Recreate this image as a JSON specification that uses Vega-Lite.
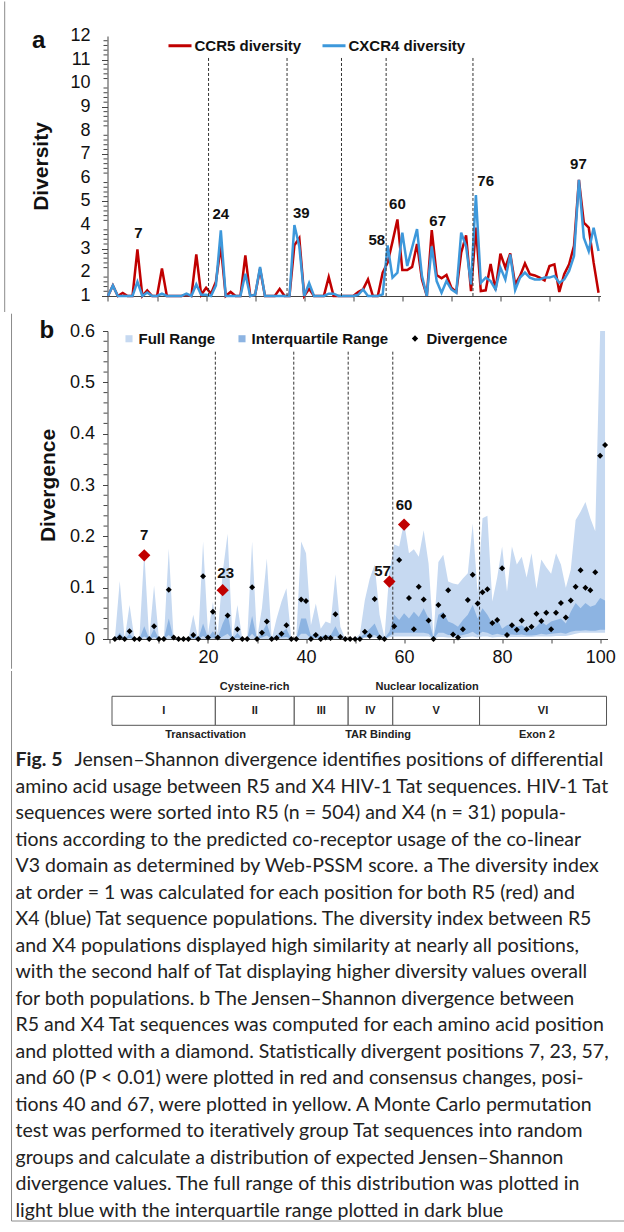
{
  "$schema": "https://vega.github.io/schema/vega-lite/v6.json",
  "padding": {"left": 3.5, "top": 0, "right": 0, "bottom": 0},
  "spacing": 0,
  "resolve": {"scale": {"color": "independent", "shape": "independent"}, "legend": {"color": "independent", "shape": "independent"}},
  "config": {
    "view": {"stroke": null},
    "font": "Liberation Sans",
    "axis": {"domainColor": "#444", "tickColor": "#444", "labelColor": "#111", "titleColor": "#111", "grid": false, "labelFont": "Liberation Sans", "titleFont": "Liberation Sans", "labelOverlap": false}
  },
  "datasets": {
    "pos": [
      {"p":1,"CCR5 diversity":1.0,"CXCR4 diversity":1.0,"jsd":0,"lo":0,"hi":0,"qlo":0,"qhi":0,"sig":false},
      {"p":2,"CCR5 diversity":1.45,"CXCR4 diversity":1.45,"jsd":0.003,"lo":0,"hi":0.113,"qlo":0.002,"qhi":0.012,"sig":false},
      {"p":3,"CCR5 diversity":1.0,"CXCR4 diversity":1.0,"jsd":0,"lo":0,"hi":0,"qlo":0,"qhi":0,"sig":false},
      {"p":4,"CCR5 diversity":1.13,"CXCR4 diversity":1.0,"jsd":0.015,"lo":0,"hi":0.066,"qlo":0.002,"qhi":0.01,"sig":false},
      {"p":5,"CCR5 diversity":1.0,"CXCR4 diversity":1.0,"jsd":0,"lo":0,"hi":0,"qlo":0,"qhi":0,"sig":false},
      {"p":6,"CCR5 diversity":1.0,"CXCR4 diversity":1.0,"jsd":0,"lo":0,"hi":0,"qlo":0,"qhi":0,"sig":false},
      {"p":7,"CCR5 diversity":2.97,"CXCR4 diversity":1.6,"jsd":0.163,"lo":0,"hi":0.17,"qlo":0.005,"qhi":0.025,"sig":true},
      {"p":8,"CCR5 diversity":1.0,"CXCR4 diversity":1.0,"jsd":0,"lo":0,"hi":0,"qlo":0,"qhi":0,"sig":false},
      {"p":9,"CCR5 diversity":1.24,"CXCR4 diversity":1.15,"jsd":0.025,"lo":0,"hi":0.104,"qlo":0.004,"qhi":0.02,"sig":false},
      {"p":10,"CCR5 diversity":1.0,"CXCR4 diversity":1.0,"jsd":0,"lo":0,"hi":0,"qlo":0,"qhi":0,"sig":false},
      {"p":11,"CCR5 diversity":1.0,"CXCR4 diversity":1.0,"jsd":0,"lo":0,"hi":0,"qlo":0,"qhi":0,"sig":false},
      {"p":12,"CCR5 diversity":2.16,"CXCR4 diversity":1.1,"jsd":0.096,"lo":0,"hi":0.176,"qlo":0.008,"qhi":0.04,"sig":false},
      {"p":13,"CCR5 diversity":1.0,"CXCR4 diversity":1.0,"jsd":0.003,"lo":0,"hi":0,"qlo":0,"qhi":0,"sig":false},
      {"p":14,"CCR5 diversity":1.0,"CXCR4 diversity":1.0,"jsd":0,"lo":0,"hi":0,"qlo":0,"qhi":0,"sig":false},
      {"p":15,"CCR5 diversity":1.0,"CXCR4 diversity":1.0,"jsd":0,"lo":0,"hi":0,"qlo":0,"qhi":0,"sig":false},
      {"p":16,"CCR5 diversity":1.0,"CXCR4 diversity":1.0,"jsd":0,"lo":0,"hi":0,"qlo":0,"qhi":0,"sig":false},
      {"p":17,"CCR5 diversity":1.05,"CXCR4 diversity":1.1,"jsd":0.008,"lo":0,"hi":0.047,"qlo":0.002,"qhi":0.01,"sig":false},
      {"p":18,"CCR5 diversity":1.0,"CXCR4 diversity":1.0,"jsd":0,"lo":0,"hi":0,"qlo":0,"qhi":0,"sig":false},
      {"p":19,"CCR5 diversity":2.76,"CXCR4 diversity":1.49,"jsd":0.122,"lo":0,"hi":0.19,"qlo":0.006,"qhi":0.03,"sig":false},
      {"p":20,"CCR5 diversity":1.05,"CXCR4 diversity":1.05,"jsd":0.003,"lo":0,"hi":0.01,"qlo":0,"qhi":0.002,"sig":false},
      {"p":21,"CCR5 diversity":1.35,"CXCR4 diversity":1.05,"jsd":0.053,"lo":0,"hi":0.072,"qlo":0.003,"qhi":0.015,"sig":false},
      {"p":22,"CCR5 diversity":1.1,"CXCR4 diversity":1.0,"jsd":0.003,"lo":0,"hi":0.01,"qlo":0,"qhi":0.002,"sig":false},
      {"p":23,"CCR5 diversity":1.6,"CXCR4 diversity":1.45,"jsd":0.095,"lo":0,"hi":0.13,"qlo":0.005,"qhi":0.03,"sig":true},
      {"p":24,"CCR5 diversity":3.12,"CXCR4 diversity":3.78,"jsd":0.046,"lo":0,"hi":0.205,"qlo":0.01,"qhi":0.05,"sig":false},
      {"p":25,"CCR5 diversity":1.0,"CXCR4 diversity":1.0,"jsd":0,"lo":0,"hi":0,"qlo":0,"qhi":0,"sig":false},
      {"p":26,"CCR5 diversity":1.17,"CXCR4 diversity":1.0,"jsd":0.019,"lo":0,"hi":0.066,"qlo":0.003,"qhi":0.012,"sig":false},
      {"p":27,"CCR5 diversity":1.0,"CXCR4 diversity":1.0,"jsd":0,"lo":0,"hi":0,"qlo":0,"qhi":0,"sig":false},
      {"p":28,"CCR5 diversity":1.0,"CXCR4 diversity":1.0,"jsd":0,"lo":0,"hi":0,"qlo":0,"qhi":0,"sig":false},
      {"p":29,"CCR5 diversity":2.72,"CXCR4 diversity":1.94,"jsd":0.101,"lo":0,"hi":0.19,"qlo":0.01,"qhi":0.045,"sig":false},
      {"p":30,"CCR5 diversity":1.0,"CXCR4 diversity":1.0,"jsd":0,"lo":0,"hi":0,"qlo":0,"qhi":0,"sig":false},
      {"p":31,"CCR5 diversity":1.05,"CXCR4 diversity":1.05,"jsd":0.012,"lo":0,"hi":0.06,"qlo":0.003,"qhi":0.012,"sig":false},
      {"p":32,"CCR5 diversity":2.15,"CXCR4 diversity":2.23,"jsd":0.034,"lo":0,"hi":0.157,"qlo":0.007,"qhi":0.03,"sig":false},
      {"p":33,"CCR5 diversity":1.0,"CXCR4 diversity":1.0,"jsd":0,"lo":0,"hi":0,"qlo":0,"qhi":0,"sig":false},
      {"p":34,"CCR5 diversity":1.0,"CXCR4 diversity":1.0,"jsd":0.002,"lo":0,"hi":0.04,"qlo":0.002,"qhi":0.008,"sig":false},
      {"p":35,"CCR5 diversity":1.0,"CXCR4 diversity":1.0,"jsd":0.01,"lo":0,"hi":0.073,"qlo":0.003,"qhi":0.012,"sig":false},
      {"p":36,"CCR5 diversity":1.3,"CXCR4 diversity":1.0,"jsd":0.027,"lo":0,"hi":0.099,"qlo":0.004,"qhi":0.02,"sig":false},
      {"p":37,"CCR5 diversity":1.0,"CXCR4 diversity":1.0,"jsd":0,"lo":0,"hi":0,"qlo":0,"qhi":0,"sig":false},
      {"p":38,"CCR5 diversity":1.0,"CXCR4 diversity":1.0,"jsd":0,"lo":0,"hi":0,"qlo":0,"qhi":0,"sig":false},
      {"p":39,"CCR5 diversity":3.15,"CXCR4 diversity":4.0,"jsd":0.077,"lo":0,"hi":0.19,"qlo":0.01,"qhi":0.04,"sig":false},
      {"p":40,"CCR5 diversity":3.45,"CXCR4 diversity":3.1,"jsd":0.074,"lo":0,"hi":0.167,"qlo":0.01,"qhi":0.04,"sig":false},
      {"p":41,"CCR5 diversity":1.0,"CXCR4 diversity":1.0,"jsd":0,"lo":0,"hi":0.027,"qlo":0.001,"qhi":0.006,"sig":false},
      {"p":42,"CCR5 diversity":1.3,"CXCR4 diversity":1.55,"jsd":0.008,"lo":0,"hi":0.069,"qlo":0.003,"qhi":0.012,"sig":false},
      {"p":43,"CCR5 diversity":1.0,"CXCR4 diversity":1.0,"jsd":0,"lo":0,"hi":0.02,"qlo":0.001,"qhi":0.005,"sig":false},
      {"p":44,"CCR5 diversity":1.0,"CXCR4 diversity":1.0,"jsd":0.003,"lo":0,"hi":0.034,"qlo":0.002,"qhi":0.008,"sig":false},
      {"p":45,"CCR5 diversity":1.0,"CXCR4 diversity":1.0,"jsd":0.002,"lo":0,"hi":0.03,"qlo":0.002,"qhi":0.007,"sig":false},
      {"p":46,"CCR5 diversity":1.8,"CXCR4 diversity":1.1,"jsd":0.048,"lo":0,"hi":0.126,"qlo":0.006,"qhi":0.025,"sig":false},
      {"p":47,"CCR5 diversity":1.0,"CXCR4 diversity":1.1,"jsd":0.004,"lo":0,"hi":0.024,"qlo":0.001,"qhi":0.006,"sig":false},
      {"p":48,"CCR5 diversity":1.0,"CXCR4 diversity":1.0,"jsd":0,"lo":0,"hi":0,"qlo":0,"qhi":0,"sig":false},
      {"p":49,"CCR5 diversity":1.0,"CXCR4 diversity":1.0,"jsd":0,"lo":0,"hi":0,"qlo":0,"qhi":0,"sig":false},
      {"p":50,"CCR5 diversity":1.0,"CXCR4 diversity":1.0,"jsd":0,"lo":0,"hi":0,"qlo":0,"qhi":0,"sig":false},
      {"p":51,"CCR5 diversity":1.0,"CXCR4 diversity":1.0,"jsd":0,"lo":0,"hi":0.01,"qlo":0,"qhi":0.003,"sig":false},
      {"p":52,"CCR5 diversity":1.17,"CXCR4 diversity":1.05,"jsd":0.014,"lo":0.002,"hi":0.076,"qlo":0.004,"qhi":0.011,"sig":false},
      {"p":53,"CCR5 diversity":1.28,"CXCR4 diversity":1.28,"jsd":0.006,"lo":0.002,"hi":0.118,"qlo":0.006,"qhi":0.02,"sig":false},
      {"p":54,"CCR5 diversity":1.7,"CXCR4 diversity":1.0,"jsd":0.078,"lo":0.003,"hi":0.145,"qlo":0.008,"qhi":0.03,"sig":false},
      {"p":55,"CCR5 diversity":1.0,"CXCR4 diversity":1.0,"jsd":0.003,"lo":0.001,"hi":0.047,"qlo":0.002,"qhi":0.008,"sig":false},
      {"p":56,"CCR5 diversity":1.0,"CXCR4 diversity":1.0,"jsd":0,"lo":0,"hi":0.003,"qlo":0,"qhi":0.001,"sig":false},
      {"p":57,"CCR5 diversity":1.99,"CXCR4 diversity":1.07,"jsd":0.112,"lo":0.003,"hi":0.13,"qlo":0.006,"qhi":0.014,"sig":true},
      {"p":58,"CCR5 diversity":2.41,"CXCR4 diversity":3.14,"jsd":0.025,"lo":0.005,"hi":0.184,"qlo":0.012,"qhi":0.047,"sig":false},
      {"p":59,"CCR5 diversity":3.3,"CXCR4 diversity":1.78,"jsd":0.154,"lo":0.005,"hi":0.18,"qlo":0.012,"qhi":0.037,"sig":false},
      {"p":60,"CCR5 diversity":4.24,"CXCR4 diversity":1.99,"jsd":0.223,"lo":0.005,"hi":0.228,"qlo":0.012,"qhi":0.05,"sig":true},
      {"p":61,"CCR5 diversity":2.1,"CXCR4 diversity":3.68,"jsd":0.08,"lo":0.005,"hi":0.167,"qlo":0.012,"qhi":0.04,"sig":false},
      {"p":62,"CCR5 diversity":2.1,"CXCR4 diversity":2.27,"jsd":0.019,"lo":0.005,"hi":0.175,"qlo":0.012,"qhi":0.053,"sig":false},
      {"p":63,"CCR5 diversity":2.23,"CXCR4 diversity":3.05,"jsd":0.102,"lo":0.005,"hi":0.16,"qlo":0.012,"qhi":0.043,"sig":false},
      {"p":64,"CCR5 diversity":3.2,"CXCR4 diversity":3.83,"jsd":0.077,"lo":0.005,"hi":0.212,"qlo":0.012,"qhi":0.06,"sig":false},
      {"p":65,"CCR5 diversity":1.7,"CXCR4 diversity":1.85,"jsd":0.036,"lo":0.005,"hi":0.147,"qlo":0.01,"qhi":0.04,"sig":false},
      {"p":66,"CCR5 diversity":1.0,"CXCR4 diversity":1.0,"jsd":0,"lo":0,"hi":0.005,"qlo":0,"qhi":0.002,"sig":false},
      {"p":67,"CCR5 diversity":3.79,"CXCR4 diversity":3.1,"jsd":0.066,"lo":0.004,"hi":0.15,"qlo":0.012,"qhi":0.047,"sig":false},
      {"p":68,"CCR5 diversity":1.89,"CXCR4 diversity":1.63,"jsd":0.045,"lo":0.004,"hi":0.164,"qlo":0.012,"qhi":0.053,"sig":false},
      {"p":69,"CCR5 diversity":1.75,"CXCR4 diversity":1.14,"jsd":0.095,"lo":0.003,"hi":0.112,"qlo":0.008,"qhi":0.034,"sig":false},
      {"p":70,"CCR5 diversity":1.89,"CXCR4 diversity":1.63,"jsd":0.009,"lo":0.003,"hi":0.108,"qlo":0.008,"qhi":0.03,"sig":false},
      {"p":71,"CCR5 diversity":1.35,"CXCR4 diversity":1.28,"jsd":0.003,"lo":0.002,"hi":0.106,"qlo":0.006,"qhi":0.024,"sig":false},
      {"p":72,"CCR5 diversity":1.17,"CXCR4 diversity":1.14,"jsd":0.019,"lo":0.003,"hi":0.118,"qlo":0.008,"qhi":0.037,"sig":false},
      {"p":73,"CCR5 diversity":2.83,"CXCR4 diversity":3.68,"jsd":0.076,"lo":0.004,"hi":0.128,"qlo":0.01,"qhi":0.047,"sig":false},
      {"p":74,"CCR5 diversity":3.57,"CXCR4 diversity":3.1,"jsd":0.125,"lo":0.005,"hi":0.225,"qlo":0.014,"qhi":0.066,"sig":false},
      {"p":75,"CCR5 diversity":1.21,"CXCR4 diversity":1.49,"jsd":0.069,"lo":0.003,"hi":0.09,"qlo":0.008,"qhi":0.04,"sig":false},
      {"p":76,"CCR5 diversity":3.89,"CXCR4 diversity":5.27,"jsd":0.091,"lo":0.005,"hi":0.235,"qlo":0.014,"qhi":0.06,"sig":false},
      {"p":77,"CCR5 diversity":1.21,"CXCR4 diversity":1.56,"jsd":0.097,"lo":0.005,"hi":0.24,"qlo":0.012,"qhi":0.047,"sig":false},
      {"p":78,"CCR5 diversity":1.24,"CXCR4 diversity":1.78,"jsd":0.031,"lo":0.003,"hi":0.073,"qlo":0.008,"qhi":0.03,"sig":false},
      {"p":79,"CCR5 diversity":2.36,"CXCR4 diversity":1.63,"jsd":0.037,"lo":0.004,"hi":0.12,"qlo":0.01,"qhi":0.04,"sig":false},
      {"p":80,"CCR5 diversity":1.25,"CXCR4 diversity":1.28,"jsd":0.138,"lo":0.004,"hi":0.18,"qlo":0.008,"qhi":0.02,"sig":false},
      {"p":81,"CCR5 diversity":2.79,"CXCR4 diversity":2.2,"jsd":0.008,"lo":0.003,"hi":0.092,"qlo":0.008,"qhi":0.027,"sig":false},
      {"p":82,"CCR5 diversity":2.2,"CXCR4 diversity":1.7,"jsd":0.027,"lo":0.004,"hi":0.18,"qlo":0.009,"qhi":0.03,"sig":false},
      {"p":83,"CCR5 diversity":2.8,"CXCR4 diversity":2.76,"jsd":0.018,"lo":0.004,"hi":0.145,"qlo":0.008,"qhi":0.024,"sig":false},
      {"p":84,"CCR5 diversity":1.49,"CXCR4 diversity":1.25,"jsd":0.036,"lo":0.004,"hi":0.16,"qlo":0.009,"qhi":0.027,"sig":false},
      {"p":85,"CCR5 diversity":1.85,"CXCR4 diversity":1.78,"jsd":0.019,"lo":0.004,"hi":0.12,"qlo":0.007,"qhi":0.02,"sig":false},
      {"p":86,"CCR5 diversity":2.38,"CXCR4 diversity":1.99,"jsd":0.024,"lo":0.004,"hi":0.167,"qlo":0.007,"qhi":0.017,"sig":false},
      {"p":87,"CCR5 diversity":1.92,"CXCR4 diversity":1.78,"jsd":0.049,"lo":0.005,"hi":0.098,"qlo":0.008,"qhi":0.024,"sig":false},
      {"p":88,"CCR5 diversity":1.87,"CXCR4 diversity":1.7,"jsd":0.035,"lo":0.005,"hi":0.155,"qlo":0.01,"qhi":0.034,"sig":false},
      {"p":89,"CCR5 diversity":1.78,"CXCR4 diversity":1.7,"jsd":0.051,"lo":0.005,"hi":0.14,"qlo":0.009,"qhi":0.027,"sig":false},
      {"p":90,"CCR5 diversity":1.66,"CXCR4 diversity":1.78,"jsd":0.019,"lo":0.005,"hi":0.127,"qlo":0.01,"qhi":0.034,"sig":false},
      {"p":91,"CCR5 diversity":2.27,"CXCR4 diversity":1.78,"jsd":0.051,"lo":0.006,"hi":0.167,"qlo":0.011,"qhi":0.037,"sig":false},
      {"p":92,"CCR5 diversity":2.34,"CXCR4 diversity":1.85,"jsd":0.07,"lo":0.006,"hi":0.145,"qlo":0.012,"qhi":0.04,"sig":false},
      {"p":93,"CCR5 diversity":1.17,"CXCR4 diversity":1.56,"jsd":0.042,"lo":0.006,"hi":0.1,"qlo":0.01,"qhi":0.03,"sig":false},
      {"p":94,"CCR5 diversity":1.92,"CXCR4 diversity":1.7,"jsd":0.075,"lo":0.008,"hi":0.135,"qlo":0.014,"qhi":0.053,"sig":false},
      {"p":95,"CCR5 diversity":2.34,"CXCR4 diversity":2.06,"jsd":0.102,"lo":0.01,"hi":0.232,"qlo":0.016,"qhi":0.07,"sig":false},
      {"p":96,"CCR5 diversity":3.12,"CXCR4 diversity":2.69,"jsd":0.134,"lo":0.012,"hi":0.248,"qlo":0.016,"qhi":0.06,"sig":false},
      {"p":97,"CCR5 diversity":5.91,"CXCR4 diversity":5.91,"jsd":0.1,"lo":0.012,"hi":0.267,"qlo":0.017,"qhi":0.07,"sig":false},
      {"p":98,"CCR5 diversity":4.1,"CXCR4 diversity":3.47,"jsd":0.095,"lo":0.012,"hi":0.235,"qlo":0.016,"qhi":0.063,"sig":false},
      {"p":99,"CCR5 diversity":3.89,"CXCR4 diversity":2.9,"jsd":0.13,"lo":0.012,"hi":0.21,"qlo":0.016,"qhi":0.066,"sig":false},
      {"p":100,"CCR5 diversity":2.41,"CXCR4 diversity":3.89,"jsd":0.357,"lo":0.012,"hi":0.6,"qlo":0.018,"qhi":0.08,"sig":false},
      {"p":101,"CCR5 diversity":1.14,"CXCR4 diversity":2.9,"jsd":0.378,"lo":0.012,"hi":0.6,"qlo":0.018,"qhi":0.075,"sig":false}
    ],
    "majorA": [{"v":1},{"v":2},{"v":3},{"v":4},{"v":5},{"v":6},{"v":7},{"v":8},{"v":9},{"v":10},{"v":11},{"v":12}],
    "minorA": [
      {"v":1.2},{"v":1.4},{"v":1.6},{"v":1.8},{"v":2.2},{"v":2.4},{"v":2.6},{"v":2.8},{"v":3.2},{"v":3.4},{"v":3.6},{"v":3.8},
      {"v":4.2},{"v":4.4},{"v":4.6},{"v":4.8},{"v":5.2},{"v":5.4},{"v":5.6},{"v":5.8},{"v":6.2},{"v":6.4},{"v":6.6},{"v":6.8},
      {"v":7.2},{"v":7.4},{"v":7.6},{"v":7.8},{"v":8.2},{"v":8.4},{"v":8.6},{"v":8.8},{"v":9.2},{"v":9.4},{"v":9.6},{"v":9.8},
      {"v":10.2},{"v":10.4},{"v":10.6},{"v":10.8},{"v":11.2},{"v":11.4},{"v":11.6},{"v":11.8}
    ],
    "minorB": [
      {"v":0.02},{"v":0.04},{"v":0.06},{"v":0.08},{"v":0.12},{"v":0.14},{"v":0.16},{"v":0.18},{"v":0.22},{"v":0.24},{"v":0.26},{"v":0.28},
      {"v":0.32},{"v":0.34},{"v":0.36},{"v":0.38},{"v":0.42},{"v":0.44},{"v":0.46},{"v":0.48},{"v":0.52},{"v":0.54},{"v":0.56},{"v":0.58}
    ],
    "dashes": [{"p":21.5},{"p":37.5},{"p":48.6},{"p":57.7},{"p":75.4}],
    "alabels": [
      {"lp":7.2,"lv":3.665,"t":"7"},{"lp":24.0,"lv":4.47,"t":"24"},{"lp":40.4,"lv":4.51,"t":"39"},
      {"lp":55.8,"lv":3.37,"t":"58"},{"lp":60.0,"lv":4.9,"t":"60"},{"lp":68.2,"lv":4.17,"t":"67"},
      {"lp":78.0,"lv":5.86,"t":"76"},{"lp":96.9,"lv":6.57,"t":"97"}
    ],
    "blabels": [
      {"lp":7.0,"lv":0.2026,"t":"7"},{"lp":23.6,"lv":0.1278,"t":"23"},
      {"lp":55.6,"lv":0.1329,"t":"57"},{"lp":60.0,"lv":0.261,"t":"60"}
    ],
    "cells": [
      {"s":0.42,"e":21.5,"n":"I"},{"s":21.5,"e":37.6,"n":"II"},{"s":37.6,"e":48.6,"n":"III"},
      {"s":48.6,"e":57.7,"n":"IV"},{"s":57.7,"e":75.4,"n":"V"},{"s":75.4,"e":101.3,"n":"VI"}
    ],
    "doms": [
      {"c":29.5,"r":-1.755,"n":"Cysteine-rich"},{"c":64.7,"r":-1.755,"n":"Nuclear localization"},
      {"c":19.5,"r":0.045,"n":"Transactivation"},{"c":54.7,"r":0.045,"n":"TAR Binding"},{"c":87.1,"r":0.045,"n":"Exon 2"}
    ],
    "caption": [
      {"line":1,"k":"lead","t":"Fig. 5"},
      {"line":1,"k":"after","t":"Jensen–Shannon divergence identifies positions of differential"},
      {"line":2,"k":"body","t":"amino acid usage between R5 and X4 HIV-1 Tat sequences. HIV-1 Tat"},
      {"line":3,"k":"body","t":"sequences were sorted into R5 (n = 504) and X4 (n = 31) popula-"},
      {"line":4,"k":"body","t":"tions according to the predicted co-receptor usage of the co-linear"},
      {"line":5,"k":"body","t":"V3 domain as determined by Web-PSSM score. a The diversity index"},
      {"line":6,"k":"body","t":"at order = 1 was calculated for each position for both R5 (red) and"},
      {"line":7,"k":"body","t":"X4 (blue) Tat sequence populations. The diversity index between R5"},
      {"line":8,"k":"body","t":"and X4 populations displayed high similarity at nearly all positions,"},
      {"line":9,"k":"body","t":"with the second half of Tat displaying higher diversity values overall"},
      {"line":10,"k":"body","t":"for both populations. b The Jensen–Shannon divergence between"},
      {"line":11,"k":"body","t":"R5 and X4 Tat sequences was computed for each amino acid position"},
      {"line":12,"k":"body","t":"and plotted with a diamond. Statistically divergent positions 7, 23, 57,"},
      {"line":13,"k":"body","t":"and 60 (P < 0.01) were plotted in red and consensus changes, posi-"},
      {"line":14,"k":"body","t":"tions 40 and 67, were plotted in yellow. A Monte Carlo permutation"},
      {"line":15,"k":"body","t":"test was performed to iteratively group Tat sequences into random"},
      {"line":16,"k":"body","t":"groups and calculate a distribution of expected Jensen–Shannon"},
      {"line":17,"k":"body","t":"divergence values. The full range of this distribution was plotted in"},
      {"line":18,"k":"body","t":"light blue with the interquartile range plotted in dark blue"}
    ]
  },
  "vconcat": [
    {
      "width": 493,
      "height": 260,
      "layer": [
        {
          "data": {"name": "pos"},
          "transform": [{"fold": ["CCR5 diversity", "CXCR4 diversity"], "as": ["series", "div"]}],
          "mark": {"type": "line", "strokeWidth": 2.5},
          "encoding": {
            "x": {"field": "p", "type": "quantitative",
              "scale": {"domain": [0.9, 101.4], "nice": false, "zero": false},
              "axis": {"values": [1,11,21,31,41,51,61,71,81,91,101], "labels": false, "tickSize": 5, "title": null}},
            "y": {"field": "div", "type": "quantitative",
              "scale": {"domain": [1, 12], "nice": false, "zero": false},
              "axis": {"values": [1,2,3,4,5,6,7,8,9,10,11,12], "labels": false, "tickSize": 6,
                "title": "Diversity", "titleFontSize": 21, "titleFontWeight": "bold", "titlePadding": 50}},
            "color": {"field": "series", "type": "nominal",
              "scale": {"domain": ["CCR5 diversity", "CXCR4 diversity"], "range": ["#c00000", "#3d98db"]},
              "legend": {"orient": "none", "legendX": 59, "legendY": -4, "direction": "horizontal", "title": null,
                "symbolType": "stroke", "symbolSize": 530, "symbolStrokeWidth": 3,
                "labelFontSize": 15, "labelFontWeight": "bold", "labelFont": "Liberation Sans", "labelColor": "#111",
                "labelOffset": 1, "columnPadding": 14, "padding": 0}}
          }
        },
        {
          "data": {"values": [{}]},
          "mark": {"type": "rule", "color": "#8c8c8c", "strokeWidth": 1},
          "encoding": {
            "x": {"datum": -20.056, "type": "quantitative"},
            "y": {"datum": 13.46, "type": "quantitative"},
            "y2": {"datum": 0.323}
          }
        },
        {
          "data": {"name": "majorA"},
          "mark": {"type": "text", "fontSize": 18, "color": "#111", "align": "right", "baseline": "middle", "dx": -17},
          "encoding": {
            "x": {"datum": 0.9, "type": "quantitative"},
            "y": {"field": "v", "type": "quantitative"},
            "text": {"field": "v", "type": "quantitative", "format": "d"}
          }
        },
        {
          "data": {"name": "minorA"},
          "mark": {"type": "tick", "orient": "horizontal", "size": 4, "thickness": 1, "color": "#444", "xOffset": -2, "opacity": 1},
          "encoding": {
            "x": {"datum": 0.9, "type": "quantitative"},
            "y": {"field": "v", "type": "quantitative"}
          }
        },
        {
          "data": {"name": "dashes"},
          "mark": {"type": "rule", "color": "#333", "strokeWidth": 1, "strokeDash": [3, 2]},
          "encoding": {
            "x": {"field": "p", "type": "quantitative"},
            "y": {"datum": 11.07, "type": "quantitative"},
            "y2": {"datum": 1}
          }
        },
        {
          "data": {"name": "alabels"},
          "mark": {"type": "text", "fontWeight": "bold", "fontSize": 15, "color": "#111", "align": "center", "baseline": "middle"},
          "encoding": {
            "x": {"field": "lp", "type": "quantitative"},
            "y": {"field": "lv", "type": "quantitative"},
            "text": {"field": "t"}
          }
        },
        {
          "data": {"values": [{"lp": -13.12, "lv": 11.79, "t": "a"}]},
          "mark": {"type": "text", "fontWeight": "bold", "fontSize": 24, "color": "#111", "align": "center", "baseline": "middle"},
          "encoding": {
            "x": {"field": "lp", "type": "quantitative"},
            "y": {"field": "lv", "type": "quantitative"},
            "text": {"field": "t"}
          }
        }
      ]
    },
    {
      "width": 500,
      "height": 308,
      "layer": [
        {
          "data": {"name": "pos"},
          "mark": {"type": "area", "opacity": 1},
          "encoding": {
            "x": {"field": "p", "type": "quantitative",
              "scale": {"domain": [-0.5, 101.5], "nice": false, "zero": false},
              "axis": {"values": [0,5,10,15,20,25,30,35,40,45,50,55,60,65,70,75,80,85,90,95,100], "format": "d",
                "labelExpr": "datum.value > 0 && datum.value % 20 === 0 ? datum.label : ''",
                "labelOverlap": false, "labelFlush": false, "labelFontSize": 18, "tickSize": 4, "labelPadding": 5, "title": null}},
            "y": {"field": "lo", "type": "quantitative",
              "scale": {"domain": [0, 0.6], "nice": false, "zero": false},
              "axis": {"values": [0,0.1,0.2,0.3,0.4,0.5,0.6],
                "labelExpr": "datum.value < 0.001 ? '0' : format(datum.value, '.1f')",
                "labelOverlap": false, "labelFlush": false, "labelFontSize": 18, "tickSize": 5, "labelPadding": 8,
                "title": "Divergence", "titleFontSize": 21, "titleFontWeight": "bold", "titlePadding": 11}},
            "y2": {"field": "hi"},
            "color": {"datum": "Full Range",
              "scale": {"domain": ["Full Range", "Interquartile Range"], "range": ["#c6d9f1", "#8db4e2"]},
              "legend": {"orient": "none", "legendX": 14, "legendY": 0, "direction": "horizontal", "title": null,
                "symbolType": "square", "symbolSize": 50, "symbolStrokeWidth": 0,
                "labelFontSize": 15, "labelFontWeight": "bold", "labelFont": "Liberation Sans", "labelColor": "#111",
                "labelOffset": 2, "columnPadding": 19, "padding": 0}}
          }
        },
        {
          "data": {"values": [{}]},
          "mark": {"type": "rule", "color": "#8c8c8c", "strokeWidth": 1},
          "encoding": {
            "x": {"datum": -20.08, "type": "quantitative"},
            "y": {"datum": 0.6337, "type": "quantitative"},
            "y2": {"datum": -0.0579}
          }
        },
        {
          "data": {"name": "minorB"},
          "mark": {"type": "tick", "orient": "horizontal", "size": 4, "thickness": 1, "color": "#444", "xOffset": -2, "opacity": 1},
          "encoding": {
            "x": {"datum": -0.5, "type": "quantitative"},
            "y": {"field": "v", "type": "quantitative"}
          }
        },
        {
          "data": {"name": "pos"},
          "mark": {"type": "area", "opacity": 1},
          "encoding": {
            "x": {"field": "p", "type": "quantitative"},
            "y": {"field": "qlo", "type": "quantitative"},
            "y2": {"field": "qhi"},
            "color": {"datum": "Interquartile Range"}
          }
        },
        {
          "data": {"name": "dashes"},
          "mark": {"type": "rule", "color": "#333", "strokeWidth": 1, "strokeDash": [3, 2]},
          "encoding": {
            "x": {"field": "p", "type": "quantitative"},
            "y": {"datum": 0.5597, "type": "quantitative"},
            "y2": {"datum": 0}
          }
        },
        {
          "data": {"name": "pos"},
          "transform": [{"filter": "!datum.sig"}],
          "mark": {"type": "point", "filled": true, "color": "#000", "size": 36, "opacity": 1},
          "encoding": {
            "x": {"field": "p", "type": "quantitative"},
            "y": {"field": "jsd", "type": "quantitative"},
            "shape": {"datum": "Divergence", "scale": {"domain": ["Divergence"], "range": ["diamond"]},
              "legend": {"orient": "none", "legendX": 300, "legendY": 0, "title": null, "symbolSize": 40,
                "symbolFillColor": "#000", "symbolStrokeColor": "#000",
                "labelFontSize": 15, "labelFontWeight": "bold", "labelFont": "Liberation Sans", "labelColor": "#111",
                "labelOffset": 4, "padding": 0}}
          }
        },
        {
          "data": {"name": "pos"},
          "transform": [{"filter": "datum.sig"}],
          "mark": {"type": "point", "filled": true, "shape": "diamond", "color": "#c00000", "size": 150, "opacity": 1},
          "encoding": {
            "x": {"field": "p", "type": "quantitative"},
            "y": {"field": "jsd", "type": "quantitative"}
          }
        },
        {
          "data": {"name": "blabels"},
          "mark": {"type": "text", "fontWeight": "bold", "fontSize": 15, "color": "#111", "align": "center", "baseline": "middle"},
          "encoding": {
            "x": {"field": "lp", "type": "quantitative"},
            "y": {"field": "lv", "type": "quantitative"},
            "text": {"field": "t"}
          }
        },
        {
          "data": {"values": [{"lp": -12.88, "lv": 0.6, "t": "b"}]},
          "mark": {"type": "text", "fontWeight": "bold", "fontSize": 24, "color": "#111", "align": "center", "baseline": "middle"},
          "encoding": {
            "x": {"field": "lp", "type": "quantitative"},
            "y": {"field": "lv", "type": "quantitative"},
            "text": {"field": "t"}
          }
        }
      ]
    },
    {
      "width": 500,
      "height": 550,
      "layer": [
        {
          "data": {"values": [{}]},
          "mark": {"type": "rule", "color": "#8c8c8c", "strokeWidth": 1},
          "encoding": {
            "x": {"datum": -20.08, "type": "quantitative",
              "scale": {"domain": [-0.5, 101.5], "nice": false, "zero": false}, "axis": null},
            "y": {"datum": -2.3585, "type": "quantitative",
              "scale": {"domain": [-2.3585, 18.396], "nice": false, "zero": false, "reverse": true}, "axis": null},
            "y2": {"datum": 18.396}
          }
        },
        {
          "data": {"values": [{}]},
          "mark": {"type": "rule", "color": "#8c8c8c", "strokeWidth": 1},
          "encoding": {
            "x": {"datum": -20.08, "type": "quantitative"},
            "x2": {"datum": 106.2},
            "y": {"datum": 18.396, "type": "quantitative"}
          }
        },
        {
          "data": {"name": "cells"},
          "mark": {"type": "rect", "fill": "#fff", "stroke": "#555", "strokeWidth": 1},
          "encoding": {
            "x": {"field": "s", "type": "quantitative"},
            "x2": {"field": "e"},
            "y": {"datum": -1.404, "type": "quantitative"},
            "y2": {"datum": -0.309}
          }
        },
        {
          "data": {"name": "cells"},
          "transform": [{"calculate": "(datum.s + datum.e) / 2", "as": "mid"}],
          "mark": {"type": "text", "fontWeight": "bold", "fontSize": 11, "color": "#222", "align": "center", "baseline": "middle"},
          "encoding": {
            "x": {"field": "mid", "type": "quantitative"},
            "y": {"datum": -0.85, "type": "quantitative"},
            "text": {"field": "n"}
          }
        },
        {
          "data": {"name": "doms"},
          "mark": {"type": "text", "fontWeight": "bold", "fontSize": 11, "color": "#222", "align": "center", "baseline": "middle"},
          "encoding": {
            "x": {"field": "c", "type": "quantitative"},
            "y": {"field": "r", "type": "quantitative"},
            "text": {"field": "n"}
          }
        },
        {
          "data": {"name": "caption"},
          "transform": [{"filter": "datum.k === 'body'"}],
          "mark": {"type": "text", "font": "Lato", "fontSize": 19.5, "color": "#222", "align": "left", "baseline": "middle"},
          "encoding": {
            "x": {"datum": -19.27, "type": "quantitative"},
            "y": {"field": "line", "type": "quantitative"},
            "text": {"field": "t"}
          }
        },
        {
          "data": {"name": "caption"},
          "transform": [{"filter": "datum.k === 'lead'"}],
          "mark": {"type": "text", "font": "Lato", "fontWeight": "bold", "fontSize": 19.5, "color": "#222", "align": "left", "baseline": "middle"},
          "encoding": {
            "x": {"datum": -19.27, "type": "quantitative"},
            "y": {"field": "line", "type": "quantitative"},
            "text": {"field": "t"}
          }
        },
        {
          "data": {"name": "caption"},
          "transform": [{"filter": "datum.k === 'after'"}],
          "mark": {"type": "text", "font": "Lato", "fontSize": 19.5, "color": "#222", "align": "left", "baseline": "middle", "dx": 59},
          "encoding": {
            "x": {"datum": -19.27, "type": "quantitative"},
            "y": {"field": "line", "type": "quantitative"},
            "text": {"field": "t"}
          }
        }
      ]
    }
  ]
}
